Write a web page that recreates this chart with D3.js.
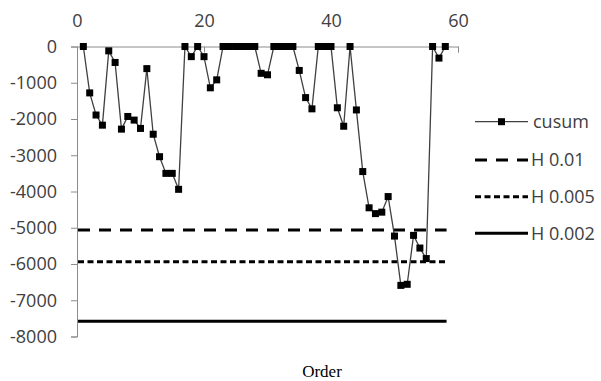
<!DOCTYPE html>
<html lang="en">
<head>
    <meta charset="UTF-8">
    <script src="https://d3js.org/d3.v7.min.js"></script>
    <title>cusum</title>
    <style>
        body { margin: 0; background: #fff; }
        text { font-family: 'Open Sans', sans-serif; fill: #404040; }
        .axis path, .axis line { stroke: #8c8c8c; }
        .axis text { font-size: 18px; fill: #404040; }
    </style>
</head>
<body>
    <svg width="601" height="381"></svg>
    <script>
        // Data: cusum by order (1..58), thresholds
        const order = d3.range(1, 59);
        const cusum = [
            0, -1280, -1890, -2170, -120, -440, -2280, -1930, -2030, -2260,
            -610, -2420, -3040, -3500, -3500, -3940, 0, -280, 0, -280,
            -1140, -920, 0, 0, 0, 0, 0, 0, -740, -780,
            0, 0, 0, 0, -660, -1410, -1720, 0, 0, 0,
            -1690, -2200, 0, -1750, -3450, -4450, -4610, -4570, -4140, -5230,
            -6590, -6560, -5210, -5560, -5850, 0, -320, 0
        ];
        const thresholds = [
            { name: "H 0.01", value: -5060, dash: "12,9" },
            { name: "H 0.005", value: -5940, dash: "6,3.5" },
            { name: "H 0.002", value: -7580, dash: null }
        ];
        const xTicks = [0, 20, 40, 60];
        const yTicks = d3.range(-8000, 1, 1000);

        const svg = d3.select("svg");

        const x = d3.scaleLinear().domain([0, 60]).range([77, 458]);
        const y = d3.scaleLinear().domain([-8000, 0]).range([336.5, 46.5]);

        // y axis
        svg.append("g")
            .attr("class", "axis")
            .attr("transform", `translate(${x(0)},0)`)
            .call(d3.axisLeft(y).tickValues(yTicks).tickSize(6).tickPadding(14)
                .tickFormat(d => String(d)));

        // x axis along zero, labels on top, ticks pointing down
        svg.append("g")
            .attr("class", "axis")
            .attr("transform", `translate(0,${y(0)})`)
            .call(d3.axisTop(x).tickValues(xTicks).tickSizeInner(-6).tickSizeOuter(-6).tickPadding(20)
                .tickFormat(d => String(d)));

        // threshold lines
        svg.selectAll(".hline")
            .data(thresholds)
            .enter().append("line")
            .attr("x1", x(0) + 1)
            .attr("x2", x(58.2))
            .attr("y1", d => y(d.value))
            .attr("y2", d => y(d.value))
            .attr("stroke", "#000")
            .attr("stroke-width", 3)
            .attr("stroke-dasharray", d => d.dash);

        // cusum line
        const pts = order.map((o, i) => ({ o, v: cusum[i] }));
        svg.append("path")
            .datum(pts)
            .attr("fill", "none")
            .attr("stroke", "#404040")
            .attr("stroke-width", 1.3)
            .attr("d", d3.line().x(d => x(d.o)).y(d => y(d.v)));

        svg.selectAll(".pt")
            .data(pts)
            .enter().append("rect")
            .attr("x", d => x(d.o) - 3.5)
            .attr("y", d => y(d.v) - 3.5)
            .attr("width", 7)
            .attr("height", 7)
            .attr("fill", "#000");

        // legend
        const legendY = [121.7, 160, 196.7, 233.3];
        const lg = svg.append("g");
        lg.append("line")
            .attr("x1", 475).attr("x2", 528)
            .attr("y1", legendY[0]).attr("y2", legendY[0])
            .attr("stroke", "#404040").attr("stroke-width", 1.3);
        lg.append("rect")
            .attr("x", 498).attr("y", legendY[0] - 3.5)
            .attr("width", 7).attr("height", 7).attr("fill", "#000");
        lg.append("text")
            .attr("x", 533).attr("y", legendY[0]).attr("dy", "0.35em")
            .style("font-size", "18px")
            .text("cusum");

        thresholds.forEach((t, i) => {
            const ly = legendY[i + 1];
            lg.append("line")
                .attr("x1", 475).attr("x2", 528)
                .attr("y1", ly).attr("y2", ly)
                .attr("stroke", "#000").attr("stroke-width", 3)
                .attr("stroke-dasharray", t.dash);
            lg.append("text")
                .attr("x", 531).attr("y", ly).attr("dy", "0.35em")
                .style("font-size", "18px")
                .text(t.name);
        });

        // x axis title
        svg.append("text")
            .attr("x", 322)
            .attr("y", 377)
            .attr("text-anchor", "middle")
            .style("font-family", "'Liberation Serif', serif")
            .style("font-size", "17px")
            .style("fill", "#000")
            .text("Order");
    </script>
</body>
</html>
